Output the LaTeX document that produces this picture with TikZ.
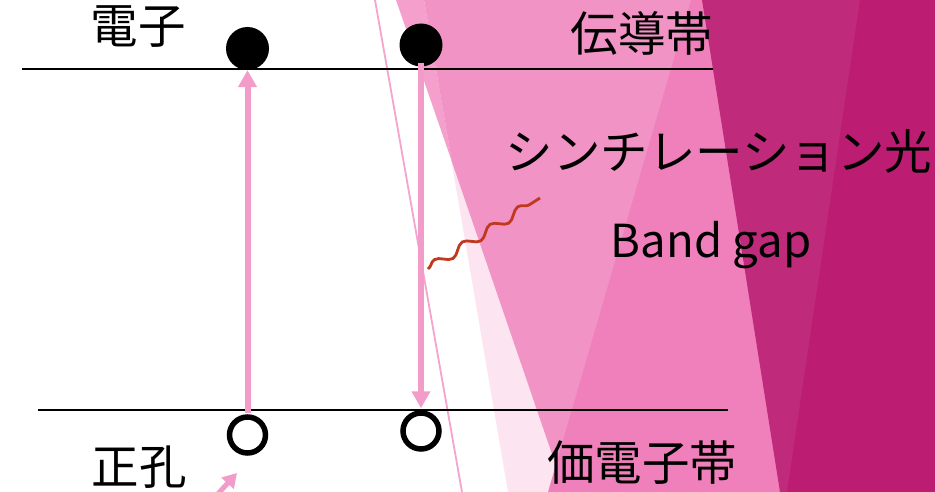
\documentclass[tikz,border=0pt]{standalone}
\usepackage{fontspec}
\setmainfont{Noto Sans CJK JP}
\usetikzlibrary{arrows.meta,decorations.pathmorphing}
\definecolor{vlight}{HTML}{FCE5F0}
\definecolor{pinkA}{HTML}{F5A0CC}
\definecolor{pinkB}{HTML}{F293C6}
\definecolor{pinkC}{HTML}{F080BC}
\definecolor{magA}{HTML}{BF2A7B}
\definecolor{magB}{HTML}{BC1D73}
\definecolor{thinpink}{HTML}{F5A3CF}
\definecolor{arrowpink}{HTML}{F39BC9}
\definecolor{wavered}{HTML}{C0391E}
\tikzset{
  lbl/.style={inner sep=0pt, font=\fontsize{47.5}{56}\selectfont},
  bandline/.style={line width=2.8pt, black},
  electron/.style={circle, fill=black, inner sep=0pt, minimum size=43pt},
  hole/.style={circle, draw=black, fill=white, line width=5.5pt, inner sep=0pt, minimum size=36pt},
  parrow/.style={arrowpink, line width=6pt, -{Triangle[length=17pt,width=18pt]}},
  wave/.style={wavered, line width=2.8pt, decorate,
    decoration={snake, amplitude=4.5pt, segment length=33pt}}
}
\begin{document}
\begin{tikzpicture}[x=1pt,y=-1pt]
\useasboundingbox (0,0) rectangle (935,492);
\fill[white] (0,0) rectangle (935,492);
% background shapes
\fill[vlight] (424,0) -- (508,492) -- (935,492) -- (935,0) -- cycle;
\fill[pinkA] (396,0) -- (424,0) -- (452,162) -- cycle;
\fill[pinkB] (424,0) -- (452,162) -- (565,492) -- (935,492) -- (935,0) -- cycle;
\fill[pinkC] (691,0) -- (548,492) -- (935,492) -- (935,0) -- cycle;
\fill[magA] (702,0) -- (780,492) -- (935,492) -- (935,0) -- cycle;
\fill[magB] (860,0) -- (787,492) -- (935,492) -- (935,0) -- cycle;
\draw[thinpink, line width=1.8pt] (375,0) -- (462,492);
% band lines
\coordinate (cb1) at (22,69);
\coordinate (cb2) at (713,69);
\coordinate (vb1) at (38,410);
\coordinate (vb2) at (728,410);
\draw[bandline] (cb1) -- (cb2);
\draw[bandline] (vb1) -- (vb2);
% particles
\node[electron] (c1) at (247.5,48.5) {};
\node[electron] (c2) at (421,45) {};
\node[hole] (h1) at (247.5,435) {};
\node[hole] (h2) at (421,431) {};
% arrows
\draw[parrow, shorten <=1pt] (h1.north) -- (c1.south);
\draw[parrow, shorten <=-4pt, shorten >=2pt] (c2.south) -- (h2.north);
\coordinate (sa) at (216,496);
\coordinate (sb) at (237,473);
\draw[arrowpink, line width=5pt, -{Triangle[length=14pt,width=16pt]}] (sa) -- (sb);
% wave
\coordinate (w1) at (428,269);
\coordinate (w2) at (540,198);
\draw[wave] (w1) -- (w2);
% labels
\node[lbl] (tE) at (138,27) {電子};
\node[lbl] (tC) at (642,33) {伝導帯};
\node[lbl] (tS) at (719,151) {シンチレーション光};
\node[lbl, font=\fontsize{45.5}{56}\selectfont] (tB) at (711,245) {Band gap};
\node[lbl] (tV) at (642,463) {価電子帯};
\node[lbl] (tH) at (139,467) {正孔};
\end{tikzpicture}
\end{document}
